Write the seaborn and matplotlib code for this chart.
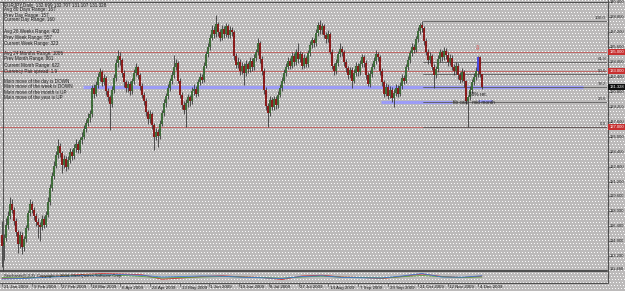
import numpy as np
import pandas as pd
import matplotlib
matplotlib.use("Agg")
import matplotlib.pyplot as plt
from matplotlib.lines import Line2D
from matplotlib.patches import Rectangle
import seaborn as sns

sns.set_style("white")
plt.rcParams['font.family'] = ['Liberation Sans', 'DejaVu Sans']

# ---------------- data (EURJPY daily) ----------------
opens = [115.5,114.3,115.2,116.5,117.5,118.8,118.2,117.0,115.8,114.5,
         115.5,114.2,115.0,116.2,117.8,118.8,118.2,117.5,116.9,116.5,
         116.3,117.2,116.6,117.6,119.0,120.5,121.8,122.9,124.0,125.0,
         124.2,123.0,123.6,122.8,123.5,124.4,123.9,124.8,125.2,124.6,
         125.6,126.0,126.8,127.5,128.0,128.4,131.2,130.6,131.5,132.4,
         132.9,131.8,132.3,130.9,130.2,129.5,131.0,132.3,133.9,134.6,
         134.2,132.8,131.8,131.2,131.6,130.9,131.9,132.8,133.4,132.6,
         131.4,130.5,129.8,128.6,127.9,128.4,127.2,126.0,126.5,126.1,
         127.4,128.5,129.6,130.3,131.2,131.9,132.6,133.5,133.9,132.0,
         130.5,129.4,128.9,129.6,130.2,129.8,130.9,131.1,130.6,131.8,
         132.4,132.1,133.6,134.8,135.6,136.6,137.4,137.0,138.0,137.2,
         136.6,137.5,137.0,137.8,136.9,137.4,137.2,134.6,133.7,134.0,
         133.0,133.6,132.8,133.8,133.2,134.1,133.4,134.4,135.0,136.0,
         134.3,133.0,131.0,129.3,128.5,129.9,129.2,130.0,129.4,130.5,
         131.2,132.0,132.8,133.5,134.1,133.6,134.6,134.0,135.0,134.3,
         134.8,133.6,134.4,133.8,134.9,135.8,136.3,136.0,137.1,137.9,
         137.4,137.8,136.9,136.4,137.0,135.1,133.6,133.0,133.9,134.8,
         135.4,135.0,134.0,133.3,132.6,133.1,132.0,132.8,133.6,132.9,
         133.8,134.5,133.9,132.6,131.6,132.7,133.5,134.1,134.8,134.5,
         133.0,131.8,130.6,131.3,130.4,131.0,130.1,130.7,131.2,130.6,
         131.4,132.3,132.0,133.4,134.2,134.9,135.6,135.3,136.4,137.3,
         137.9,137.6,136.2,135.1,134.2,134.6,133.5,132.6,133.2,134.3,
         135.0,134.5,135.2,134.7,134.0,134.4,133.5,133.0,133.6,132.6,
         132.1,132.9,131.9,129.8,130.2,131.0,131.8,132.4,133.0,134.5,
         132.699]
highs = [117.0,115.6,117.3,118.0,119.5,119.3,118.5,117.3,116.0,115.9,
         115.8,115.4,116.6,118.2,119.3,119.1,118.5,117.8,117.3,116.9,
         117.6,117.5,118.0,119.5,120.9,122.2,123.4,124.5,125.8,125.3,
         124.5,124.0,123.9,123.9,124.8,124.7,125.2,125.7,125.5,126.0,
         126.5,127.2,127.9,128.5,128.8,131.5,131.6,131.9,132.8,133.3,
         133.1,132.7,132.5,131.2,130.5,131.4,132.7,134.3,135.3,135.0,
         134.4,133.1,132.1,132.0,131.9,132.3,133.2,133.9,133.6,132.8,
         131.7,130.8,130.1,128.9,128.8,128.6,127.5,126.9,126.8,127.8,
         128.9,130.0,130.7,131.6,132.3,133.0,134.7,134.3,134.1,132.3,
         130.8,129.8,130.0,130.6,130.5,131.3,131.6,131.4,132.2,132.8,
         132.7,134.0,135.2,136.0,137.0,137.9,137.8,139.0,138.3,137.5,
         137.9,137.8,138.2,138.0,137.8,137.7,137.4,134.9,134.5,134.3,
         134.0,133.9,134.2,134.0,134.5,134.4,134.8,135.4,136.6,136.2,
         134.6,133.3,131.3,129.6,130.3,130.2,130.4,130.3,130.9,131.6,
         132.4,133.2,133.9,134.5,134.4,135.0,134.9,135.4,136.0,135.2,
         135.0,134.8,134.6,135.3,136.2,136.7,136.6,137.5,138.3,138.5,
         138.2,138.0,137.2,137.4,137.2,135.4,133.9,134.3,135.2,136.0,
         135.7,135.3,134.3,133.6,133.5,133.4,133.2,134.0,133.9,134.2,
         134.8,134.7,134.2,132.9,133.1,133.9,134.5,135.3,135.1,134.7,
         133.3,132.1,131.7,131.6,131.4,131.3,131.1,131.6,131.5,131.8,
         132.7,132.6,133.8,134.6,135.3,136.0,135.9,136.8,137.7,138.2,
         138.35,137.8,136.5,135.4,135.0,134.8,133.8,133.6,134.7,135.4,
         135.3,135.6,135.5,135.0,134.8,134.7,133.8,134.0,133.9,132.9,
         133.3,133.1,132.1,130.5,131.4,132.2,132.8,133.4,134.6,134.6,
         132.707]
lows = [112.1,112.8,114.8,116.1,117.2,117.8,116.6,115.4,113.6,114.1,
        113.4,113.8,114.7,116.0,117.5,117.8,117.1,116.4,115.2,114.8,
        116.0,116.2,116.3,117.4,118.7,120.2,121.5,122.6,123.7,123.8,
        122.1,122.6,122.3,122.5,123.2,123.5,123.6,124.4,124.2,124.3,
        125.2,125.7,126.5,127.1,127.6,128.1,130.1,130.3,131.2,132.0,
        131.4,131.5,130.5,129.8,126.7,129.2,130.7,132.0,133.5,133.7,
        132.4,131.3,130.8,130.8,130.5,130.6,131.6,132.5,132.2,131.0,
        130.1,129.4,128.2,127.4,127.5,126.8,124.6,125.6,124.9,125.8,
        127.1,128.2,129.2,130.0,130.9,131.6,132.3,133.1,131.7,130.1,
        129.0,128.4,127.0,129.2,129.3,129.5,130.5,130.2,130.3,131.5,
        131.7,131.8,133.3,134.5,135.3,136.3,136.6,136.7,136.8,136.2,
        136.3,136.5,136.7,136.5,136.6,136.8,134.2,133.3,133.3,132.6,
        132.7,131.5,132.5,132.8,132.9,133.0,133.1,134.1,134.7,133.9,
        132.6,130.6,128.9,127.0,128.2,128.8,128.9,129.0,129.1,130.2,
        130.9,131.7,132.5,133.2,133.2,133.3,133.6,133.7,133.9,134.0,
        133.2,133.3,133.4,133.5,134.6,135.5,135.6,135.7,136.8,137.0,
        137.0,136.5,136.0,136.1,134.8,133.2,132.6,132.7,133.6,134.5,
        134.6,133.6,132.9,132.2,132.3,131.2,131.7,132.5,132.5,132.6,
        133.5,133.5,132.2,131.4,131.3,132.4,133.2,133.8,134.1,132.6,
        131.4,130.2,130.3,130.0,130.1,129.7,129.2,130.4,130.2,130.3,
        131.1,131.6,131.7,133.1,133.9,134.6,134.9,135.0,136.1,137.0,
        137.2,135.8,134.7,133.8,133.9,133.1,131.2,132.3,132.9,134.0,
        134.1,134.2,134.3,133.6,133.7,133.1,132.6,132.7,132.2,131.7,
        131.8,131.3,129.5,127.0,129.9,130.7,131.5,132.1,132.4,132.4,
        131.107]
closes = [114.3,115.2,116.5,117.5,118.8,118.2,117.0,115.8,114.5,115.5,
          114.2,115.0,116.2,117.8,118.8,118.2,117.5,116.9,116.5,116.3,
          117.2,116.6,117.6,119.0,120.5,121.8,122.9,124.0,125.0,124.2,
          123.0,123.6,122.8,123.5,124.4,123.9,124.8,125.2,124.6,125.6,
          126.0,126.8,127.5,128.0,128.4,131.2,130.6,131.5,132.4,132.9,
          131.8,132.3,130.9,130.2,129.5,131.0,132.3,133.9,134.6,134.2,
          132.8,131.8,131.2,131.6,130.9,131.9,132.8,133.4,132.6,131.4,
          130.5,129.8,128.6,127.9,128.4,127.2,126.0,126.5,126.1,127.4,
          128.5,129.6,130.3,131.2,131.9,132.6,133.5,133.9,132.0,130.5,
          129.4,128.9,129.6,130.2,129.8,130.9,131.1,130.6,131.8,132.4,
          132.1,133.6,134.8,135.6,136.6,137.4,137.0,138.0,137.2,136.6,
          137.5,137.0,137.8,136.9,137.4,137.2,134.6,133.7,134.0,133.0,
          133.6,132.8,133.8,133.2,134.1,133.4,134.4,135.0,136.0,134.3,
          133.0,131.0,129.3,128.5,129.9,129.2,130.0,129.4,130.5,131.2,
          132.0,132.8,133.5,134.1,133.6,134.6,134.0,135.0,134.3,134.8,
          133.6,134.4,133.8,134.9,135.8,136.3,136.0,137.1,137.9,137.4,
          137.8,136.9,136.4,137.0,135.1,133.6,133.0,133.9,134.8,135.4,
          135.0,134.0,133.3,132.6,133.1,132.0,132.8,133.6,132.9,133.8,
          134.5,133.9,132.6,131.6,132.7,133.5,134.1,134.8,134.5,133.0,
          131.8,130.6,131.3,130.4,131.0,130.1,130.7,131.2,130.6,131.4,
          132.3,132.0,133.4,134.2,134.9,135.6,135.3,136.4,137.3,137.9,
          137.6,136.2,135.1,134.2,134.6,133.5,132.6,133.2,134.3,135.0,
          134.5,135.2,134.7,134.0,134.4,133.5,133.0,133.6,132.6,132.1,
          132.9,131.9,129.8,130.2,131.0,131.8,132.4,133.0,134.5,132.7,
          131.328]

date_labels = ["21 Jan 2009", "9 Feb 2009", "27 Feb 2009", "18 Mar 2009", "6 Apr 2009",
               "24 Apr 2009", "13 May 2009", "1 Jun 2009", "19 Jun 2009", "8 Jul 2009",
               "27 Jul 2009", "14 Aug 2009", "7 Sep 2009", "29 Sep 2009", "21 Oct 2009",
               "12 Nov 2009", "4 Dec 2009"]
date_ticks = [0, 15, 29.5, 44.5, 59, 74, 89, 103.5, 118.5, 133.5, 148.5,
              163, 178, 193, 208, 223, 238]

price_ticks = [140.4, 138.8, 137.2, 135.6, 134.0, 132.4, 130.8, 129.2, 127.6, 126.0,
               124.4, 122.8, 121.2, 119.6, 118.0, 116.4, 114.8, 113.2]
level_lines = [135.0, 133.0, 127.0]          # red horizontal levels
current_price = 131.328
fib_high, fib_low = 138.35, 127.0            # Oct high / Nov low
fib_start = 210.5
fib_ratios = [0.0, 0.236, 0.382, 0.5, 0.618, 1.0]

info_lines = [
    (5, "EURJPY,Daily  132.699 132.707 131.107 131.328"),
    (10, "Avg 80 Days Range: 167"),
    (15, "Prev Day Range: 157"),
    (20, "Current Day Range: 160"),
    (32, "Avg 26 Weeks Range: 403"),
    (37.5, "Prev Week Range: 557"),
    (43, "Current Week Range: 323"),
    (53, "Avg 24 Months Range: 1086"),
    (59, "Prev Month Range: 861"),
    (65, "Current Month Range: 622"),
    (71, "Currency Pair spread: 1.9"),
    (81, "Main move of the day is DOWN"),
    (87, "Main move of the week is DOWN"),
    (93, "Main move of the month is UP"),
    (98, "Main move of the year is UP"),
]

sub_idx = list(range(0, 241, 10))
sub_red = [35, 38, 50, 62, 75, 84, 80, 72, 28, 40, 55, 62, 52, 45, 25, 60, 68, 50, 45, 35, 55, 80, 55, 45, 58]
sub_blue = [30, 35, 45, 55, 65, 70, 74, 66, 50, 55, 60, 58, 48, 42, 35, 55, 62, 46, 42, 40, 60, 85, 50, 48, 62]
sub_green = [45, 40, 48, 60, 68, 72, 66, 55, 40, 45, 50, 55, 50, 44, 38, 50, 58, 48, 45, 40, 52, 65, 52, 45, 50]

# ---------------- layout ----------------
W, H = 625, 291
PX_PER_YEN = 9.35
fig = plt.figure(figsize=(W / 100, H / 100), dpi=100)

bg = np.empty((H, W, 3), dtype=np.uint8)
bg[:] = (188, 186, 186)
yy, xx = np.mgrid[0:H, 0:W]
mask = (yy % 3 == 0) & ((xx + (yy // 3) * 2) % 3 == 0)
bg[mask] = (250, 250, 250)
fig.figimage(bg, xo=0, yo=0, origin='upper', zorder=-10)


def rect(x0, y0, x1, y1):
    return [x0 / W, 1 - y1 / H, (x1 - x0) / W, (y1 - y0) / H]


def fline(x0, y0, x1, y1, color='#505050', lw=0.8):
    fig.lines.append(Line2D([x0 / W, x1 / W], [1 - y0 / H, 1 - y1 / H],
                            transform=fig.transFigure, color=color, lw=lw))


def price_to_px(p):
    return 2 + (140.4 - p) * PX_PER_YEN


ax = fig.add_axes(rect(0, 0, 607, 271))
ax2 = fig.add_axes(rect(0, 272, 607, 282))
for a in (ax, ax2):
    a.set_facecolor('none')
    a.set_axis_off()

ax.set_xlim(-1, 302.5)
ax.set_ylim(140.4 - 269 / PX_PER_YEN, 140.4 + 2 / PX_PER_YEN)
ax2.set_xlim(-1, 302.5)
ax2.set_ylim(0, 100)

df = pd.DataFrame({"o": opens, "h": highs, "l": lows, "c": closes})
df["i"] = np.arange(len(df))

# horizontal levels (behind candles)
for p in level_lines:
    ax.axhline(p, color='#c05a58', lw=0.6, zorder=1)
ax.plot([40.5, 290.5], [current_price, current_price], color='#9c9cf6', lw=2.3,
        solid_capstyle='butt', zorder=1)
lv236 = fib_low + 0.236 * (fib_high - fib_low)
ax.plot([189.5, 225], [lv236, lv236], color='#9c9cf6', lw=2.3, solid_capstyle='butt', zorder=1)
ax.plot([238, 245], [lv236 + 0.15, lv236 + 0.15], color='#9c9cf6', lw=2.0, solid_capstyle='butt', zorder=1)
for r in fib_ratios:
    lv = fib_low + r * (fib_high - fib_low)
    ax.plot([fib_start, 302.5], [lv, lv], color='#5a5a5a', lw=0.6, zorder=1)
    ax.text(302, lv + 0.12, f"{r * 100:.1f}", ha='right', va='bottom', fontsize=3.2,
            color='#303030', zorder=5)

# candles
ax.vlines(df["i"], df["l"], df["h"], color='#3a3a3a', lw=0.6, zorder=2)
body_bottom = np.minimum(df["o"], df["c"])
body_h = np.maximum((df["c"] - df["o"]).abs(), 0.06)
colors = np.where(df["c"] >= df["o"], '#3f6d3a', '#8a1c1c').astype(object)
colors[238] = '#4a4ae0'
ax.bar(df["i"], body_h, bottom=body_bottom, width=0.9, color=list(colors), linewidth=0, zorder=3)

# annotations on the chart
ax.text(238, 135.4, "\u21e9", color='#dd2a2a', fontsize=4.5, ha='center', va='center',
        family=['DejaVu Sans'], zorder=6)
ax.text(233.5, 130.55, "38% ret.", fontsize=3.4, color='#202020', va='center', zorder=6)
ax.text(225.5, lv236, "fib calc   mid month", fontsize=3.4, color='#202020', va='center', zorder=6)

# right price scale
LAB_X = 609.5
for p in price_ticks:
    y = price_to_px(p)
    fig.text(LAB_X / W, 1 - y / H, f"{p:.3f}", fontsize=3.0, va='center', ha='left', color='#202020')
    fline(607.5, y, 610, y, lw=0.5)
for p, fc in [(q, '#c83030') for q in level_lines] + [(current_price, '#101010')]:
    y = price_to_px(p)
    fig.patches.append(Rectangle((608 / W, 1 - (y + 3) / H), 17 / W, 6 / H,
                                 transform=fig.transFigure, fc=fc, ec='none', zorder=4))
    fig.text(LAB_X / W, 1 - y / H, f"{p:.3f}", fontsize=3.0, va='center', ha='left',
             color='white', zorder=5)
fig.text(LAB_X / W, 1 - 269 / H, "111.480", fontsize=3.0, va='center', color='#202020')

# info text block
for yp, t in info_lines:
    fig.text(4 / W, 1 - yp / H, t, fontsize=3.3, va='center', ha='left', color='#1a1a1a')

# sub window indicator
sub = pd.DataFrame({"i": sub_idx * 3,
                    "v": sub_red + sub_green + sub_blue,
                    "s": ["red"] * len(sub_idx) + ["green"] * len(sub_idx) + ["blue"] * len(sub_idx)})
sns.lineplot(data=sub, x="i", y="v", hue="s", palette={"red": '#d03030', "green": '#5aa040', "blue": '#3c78d0'},
             lw=0.6, legend=False, ax=ax2)
ax2.set_axis_off()
fig.text(4 / W, 1 - 276.5 / H, "Stochastic(5,3,3)  Copyright \u00a9 2004, MetaQuotes Software Corp.",
         fontsize=3.0, va='center', color='#1a1a1a')

# frame lines
fline(0, 1.5, 607, 1.5)
fline(607.5, 0, 607.5, 283)
fline(0, 271, 607, 271, lw=1.5)
fline(0, 282.5, 607, 282.5)
fline(2.5, 1.5, 2.5, 271, color='#404040', lw=0.6)

# date axis
for t, lab in zip(date_ticks, date_labels):
    px = 2 + 2 * t
    fline(px, 283, px, 286, lw=0.5)
    fig.text((px + 1.5) / W, 1 - 287.5 / H, lab, fontsize=3.2, va='center', ha='left', color='#1a1a1a')

fig.savefig("out.png", dpi=100)
